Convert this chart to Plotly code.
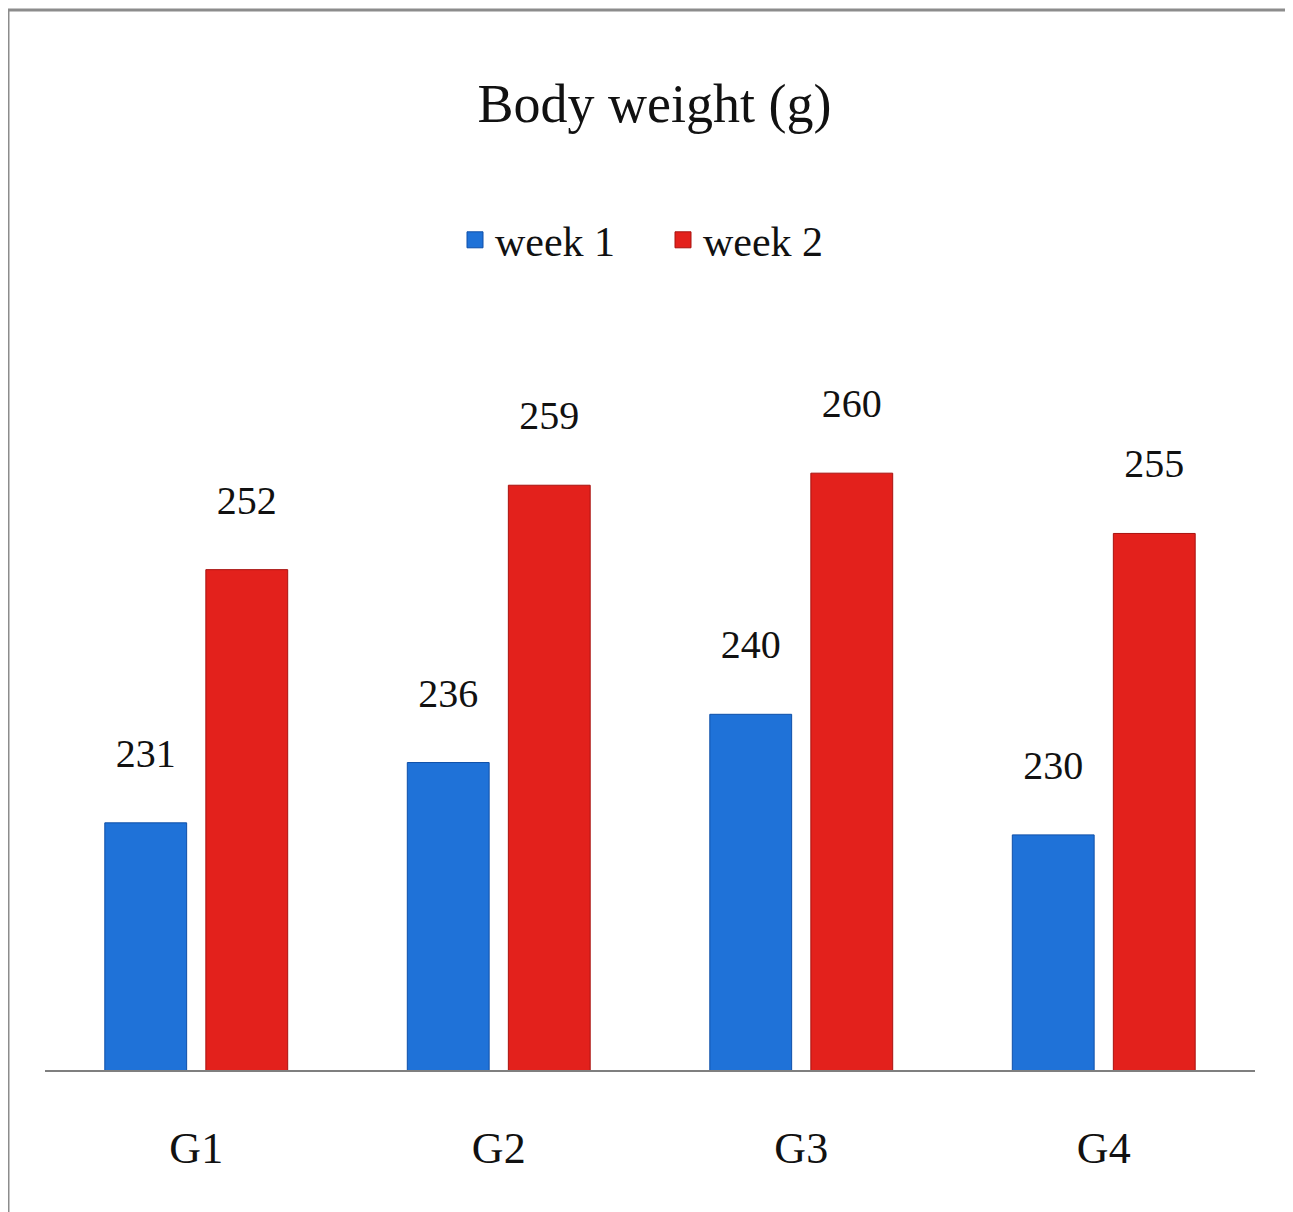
import plotly.graph_objects as go

categories = ["G1", "G2", "G3", "G4"]
week1 = [231, 236, 240, 230]
week2 = [252, 259, 260, 255]
series_names = ["week 1", "week 2"]
colors = ["#1f72d8", "#e3211c"]
edges = ["#0e4fa8", "#a8120f"]

W, H = 1293, 1212
OFF = 8  # page body margin
ml, mr, mt, mb = 45 - OFF, 46, 226 - OFF, 142 + OFF
FONT = "Liberation Serif, Times New Roman, serif"
LBL = "%{y}<br><span style='font-size:3px'> </span>"

fig = go.Figure()
for vals, name, c, e in zip([week1, week2], series_names, colors, edges):
    fig.add_trace(go.Bar(
        x=categories, y=vals, name=name, showlegend=False,
        marker=dict(color=c, line=dict(color=e, width=1)),
        text=vals, texttemplate=LBL, textposition="outside",
        textfont=dict(family=FONT, size=40, color="#111111"), cliponaxis=False,
    ))
for name, c, e in zip(series_names, colors, edges):
    fig.add_trace(go.Scatter(
        x=[None], y=[None], mode="markers", name=name,
        marker=dict(symbol="square", size=24, color=c, line=dict(color=e, width=1)),
    ))

ph = H - mt - mb
pw = W - ml - mr
def px_x(x): return (x - OFF - ml) / pw
def px_y(y): return (H - mb - (y - OFF)) / ph

fig.update_layout(
    width=W, height=H,
    margin=dict(l=ml, r=mr, t=mt, b=mb),
    paper_bgcolor="white", plot_bgcolor="white",
    barmode="group", bargap=0.332, bargroupgap=0.19,
    title=dict(text="Body weight (g)", x=0.5, xanchor="center",
               y=1 - (103 - OFF) / H, yanchor="middle",
               font=dict(family=FONT, size=54, color="#111111")),
    legend=dict(orientation="h", x=px_x(455), xanchor="left",
                y=px_y(240), yanchor="middle",
                font=dict(family=FONT, size=42, color="#111111"),
                itemwidth=30, entrywidth=163, entrywidthmode="pixels",
                tracegroupgap=0, bgcolor="rgba(0,0,0,0)"),
    xaxis=dict(showline=True, linecolor="#7f7f7f", linewidth=2,
               ticks="", ticklabelstandoff=38,
               tickfont=dict(family=FONT, size=44, color="#111111"),
               showgrid=False),
    yaxis=dict(range=[210.5, 280.5], visible=False, showgrid=False),
    shapes=[
        dict(type="line", xref="paper", yref="paper",
             x0=px_x(8), x1=px_x(1310), y0=px_y(10), y1=px_y(10),
             line=dict(color="#8c8c8c", width=3)),
        dict(type="line", xref="paper", yref="paper",
             x0=px_x(8), x1=px_x(8), y0=px_y(10), y1=px_y(1230),
             line=dict(color="#8c8c8c", width=3)),
    ],
)

fig.write_html("out.html")
